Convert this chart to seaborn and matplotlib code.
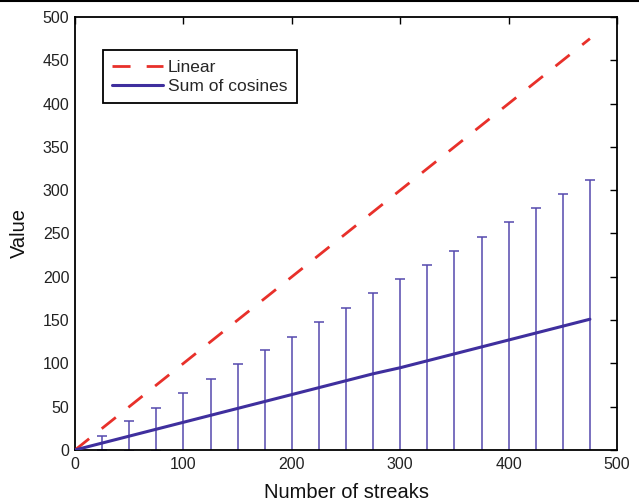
import matplotlib
matplotlib.use("Agg")
import matplotlib.pyplot as plt
import seaborn as sns
import pandas as pd
from matplotlib.lines import Line2D

streaks = [0, 25, 50, 75, 100, 125, 150, 175, 200, 225, 250, 275, 300, 325, 350, 375, 400, 425, 450, 475]
linear = [0, 25, 50, 75, 100, 125, 150, 175, 200, 225, 250, 275, 300, 325, 350, 375, 400, 425, 450, 475]
sum_cos = [0, 8, 16, 24, 32, 40, 48, 56, 64, 72, 80, 88, 95, 103, 111, 119, 127, 135, 143, 151]
bar_x = [25, 50, 75, 100, 125, 150, 175, 200, 225, 250, 275, 300, 325, 350, 375, 400, 425, 450, 475]
bar_top = [16, 33, 49, 66, 82, 99, 115, 131, 148, 164, 181, 197, 214, 230, 246, 263, 279, 296, 312]

sns.set_style("white")
plt.rcParams['font.family'] = ['Liberation Sans', 'DejaVu Sans']

fig = plt.figure(figsize=(6.39, 5.03), dpi=100)
ax = fig.add_axes([0.1174, 0.1054, 0.8482, 0.8608])

df = pd.DataFrame({"x": streaks, "Linear": linear, "Sum of cosines": sum_cos})
bar_mid = [sum_cos[streaks.index(x)] for x in bar_x]
err = [t - m for t, m in zip(bar_top, bar_mid)]
ax.errorbar(bar_x, bar_mid, yerr=[err, err], fmt='none', ecolor='#5549ad',
            elinewidth=1.1, capsize=3.4, capthick=1.1, zorder=2)
dash = [6.5, 5.8]
sns.lineplot(data=df, x="x", y="Linear", ax=ax, color='#e8302a', lw=2.0,
             dashes=False, label="Linear", zorder=3)
ax.lines[-1].set_dashes(dash)
sns.lineplot(data=df, x="x", y="Sum of cosines", ax=ax, color='#3f2f9e', lw=2.2,
             label="Sum of cosines", zorder=3)

ax.set_xlim(0, 500)
ax.set_ylim(0, 500)
ax.set_xticks(range(0, 501, 100))
ax.set_yticks(range(0, 501, 50))
ax.tick_params(direction='in', length=5, width=1, top=True, right=True,
               labelsize=11.5, colors='black', labelcolor='#222222')
ax.tick_params(axis='x', pad=5)
ax.tick_params(axis='y', pad=4)
for s in ax.spines.values():
    s.set_color('black')
    s.set_linewidth(1.3)
ax.set_xlabel("Number of streaks", fontsize=14.5, labelpad=8, color='#111111')
ax.set_ylabel("Value", fontsize=14.5, labelpad=10, color='#111111')

leg = ax.legend(loc='upper left', bbox_to_anchor=(0.051, 0.924), fontsize=12.5,
                handlelength=2.9, handletextpad=0.3, borderpad=0.55,
                labelspacing=0.22, borderaxespad=0, fancybox=False, framealpha=1,
                edgecolor='black')
leg.get_frame().set_linewidth(1.3)
leg.get_lines()[0].set_dashes(dash)

fig.add_artist(Line2D([0, 1], [0.998, 0.998], color='black', lw=1.5,
                      transform=fig.transFigure))

fig.savefig("out.png", dpi=100)
